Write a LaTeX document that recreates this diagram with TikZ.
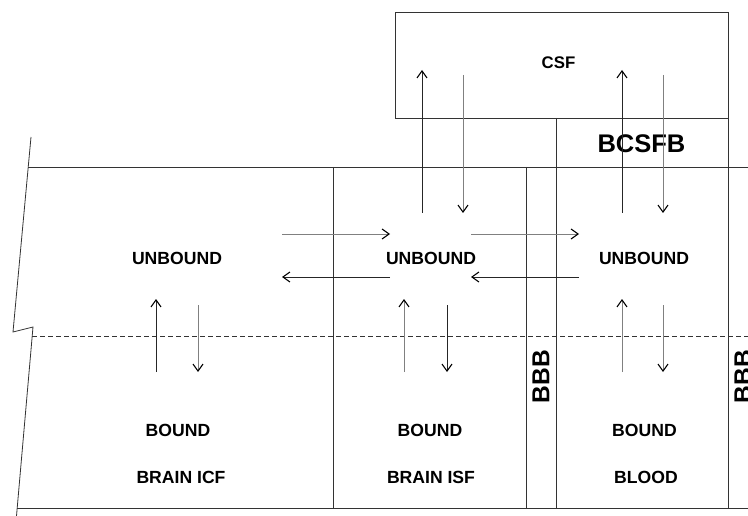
\documentclass[tikz,border=0pt]{standalone}
\usepackage{fontspec}
\setmainfont{Liberation Sans}
\usetikzlibrary{arrows.meta}
\tikzset{
  frame/.style={draw=black!80, line width=0.8pt},
  flow/.style={draw=black!85, line width=0.8pt, -{Straight Barb[length=7pt,width=10pt,line width=1.1pt,color=black]}},
  flowg/.style={flow, draw=black!50},
  lbl/.style={inner sep=0pt, font=\bfseries\fontsize{17.6}{20}\selectfont},
  big/.style={inner sep=0pt, font=\bfseries\fontsize{25.5}{28}\selectfont},
}
\begin{document}
\begin{tikzpicture}[x=1pt,y=-1pt]
\useasboundingbox (0,0) rectangle (748,516);
\begin{scope}
\clip (0,0) rectangle (748,516);
% frame
\draw[frame] (31,137) -- (13,332) -- (33,327) -- (16.5,516);
\draw[frame] (28.2,167) -- (748,167);
\draw[frame] (16.7,508) -- (748,508);
\draw[frame, dash pattern=on 5pt off 3pt] (32.2,336) -- (748,336);
\draw[frame] (333,167) -- (333,508);
\draw[frame] (526,167) -- (526,508);
\draw[frame] (556,118) -- (556,508);
\draw[frame] (728,118) -- (728,508);
\draw[frame] (395,12) rectangle (728,118);
% labels
\node[lbl, font=\bfseries\fontsize{16.8}{20}\selectfont] (csf) at (558.5,62.5) {CSF};
\node[big] (bcsfb) at (641.5,144) {BCSFB};
\node[lbl] (u1) at (177,258) {UNBOUND};
\node[lbl] (u2) at (431,258) {UNBOUND};
\node[lbl] (u3) at (644,258) {UNBOUND};
\node[lbl] (b1) at (178,430) {BOUND};
\node[lbl] (b2) at (430,430) {BOUND};
\node[lbl] (b3) at (644.5,430) {BOUND};
\node[lbl] (r1) at (181,477) {BRAIN ICF};
\node[lbl] (r2) at (431,477) {BRAIN ISF};
\node[lbl] (r3) at (646,477) {BLOOD};
\node[big, rotate=90, font=\bfseries\fontsize{24.5}{28}\selectfont] (bbb1) at (541,376.5) {BBB};
\node[big, rotate=90, font=\bfseries\fontsize{24.5}{28}\selectfont] (bbb2) at (743,376.5) {BBB};
% arrow end points
\coordinate (a1s) at (422,213); \coordinate (a1e) at (422,70);
\coordinate (a2s) at (463,75);  \coordinate (a2e) at (463,213);
\coordinate (a3s) at (622,213); \coordinate (a3e) at (622,70);
\coordinate (a4s) at (663,75);  \coordinate (a4e) at (663,213);
\coordinate (h1s) at (282,234); \coordinate (h1e) at (390,234);
\coordinate (h2s) at (471,234); \coordinate (h2e) at (579,234);
\coordinate (h3s) at (390,277); \coordinate (h3e) at (282,277);
\coordinate (h4s) at (579,277); \coordinate (h4e) at (471,277);
\coordinate (v1s) at (156,372); \coordinate (v1e) at (156,299);
\coordinate (v2s) at (198,305); \coordinate (v2e) at (198,372);
\coordinate (v3s) at (404,372); \coordinate (v3e) at (404,299);
\coordinate (v4s) at (447,305); \coordinate (v4e) at (447,372);
\coordinate (v5s) at (622,372); \coordinate (v5e) at (622,299);
\coordinate (v6s) at (663,305); \coordinate (v6e) at (663,372);
% arrows
\draw[flow]  (a1s) -- (a1e);
\draw[flowg] (a2s) -- (a2e);
\draw[flow]  (a3s) -- (a3e);
\draw[flowg] (a4s) -- (a4e);
\draw[flowg] (h1s) -- (h1e);
\draw[flowg] (h2s) -- (h2e);
\draw[flow]  (h3s) -- (h3e);
\draw[flow]  (h4s) -- (h4e);
\draw[flow]  (v1s) -- (v1e);
\draw[flowg] (v2s) -- (v2e);
\draw[flowg] (v3s) -- (v3e);
\draw[flow]  (v4s) -- (v4e);
\draw[flowg] (v5s) -- (v5e);
\draw[flowg] (v6s) -- (v6e);
\end{scope}
\end{tikzpicture}
\end{document}
